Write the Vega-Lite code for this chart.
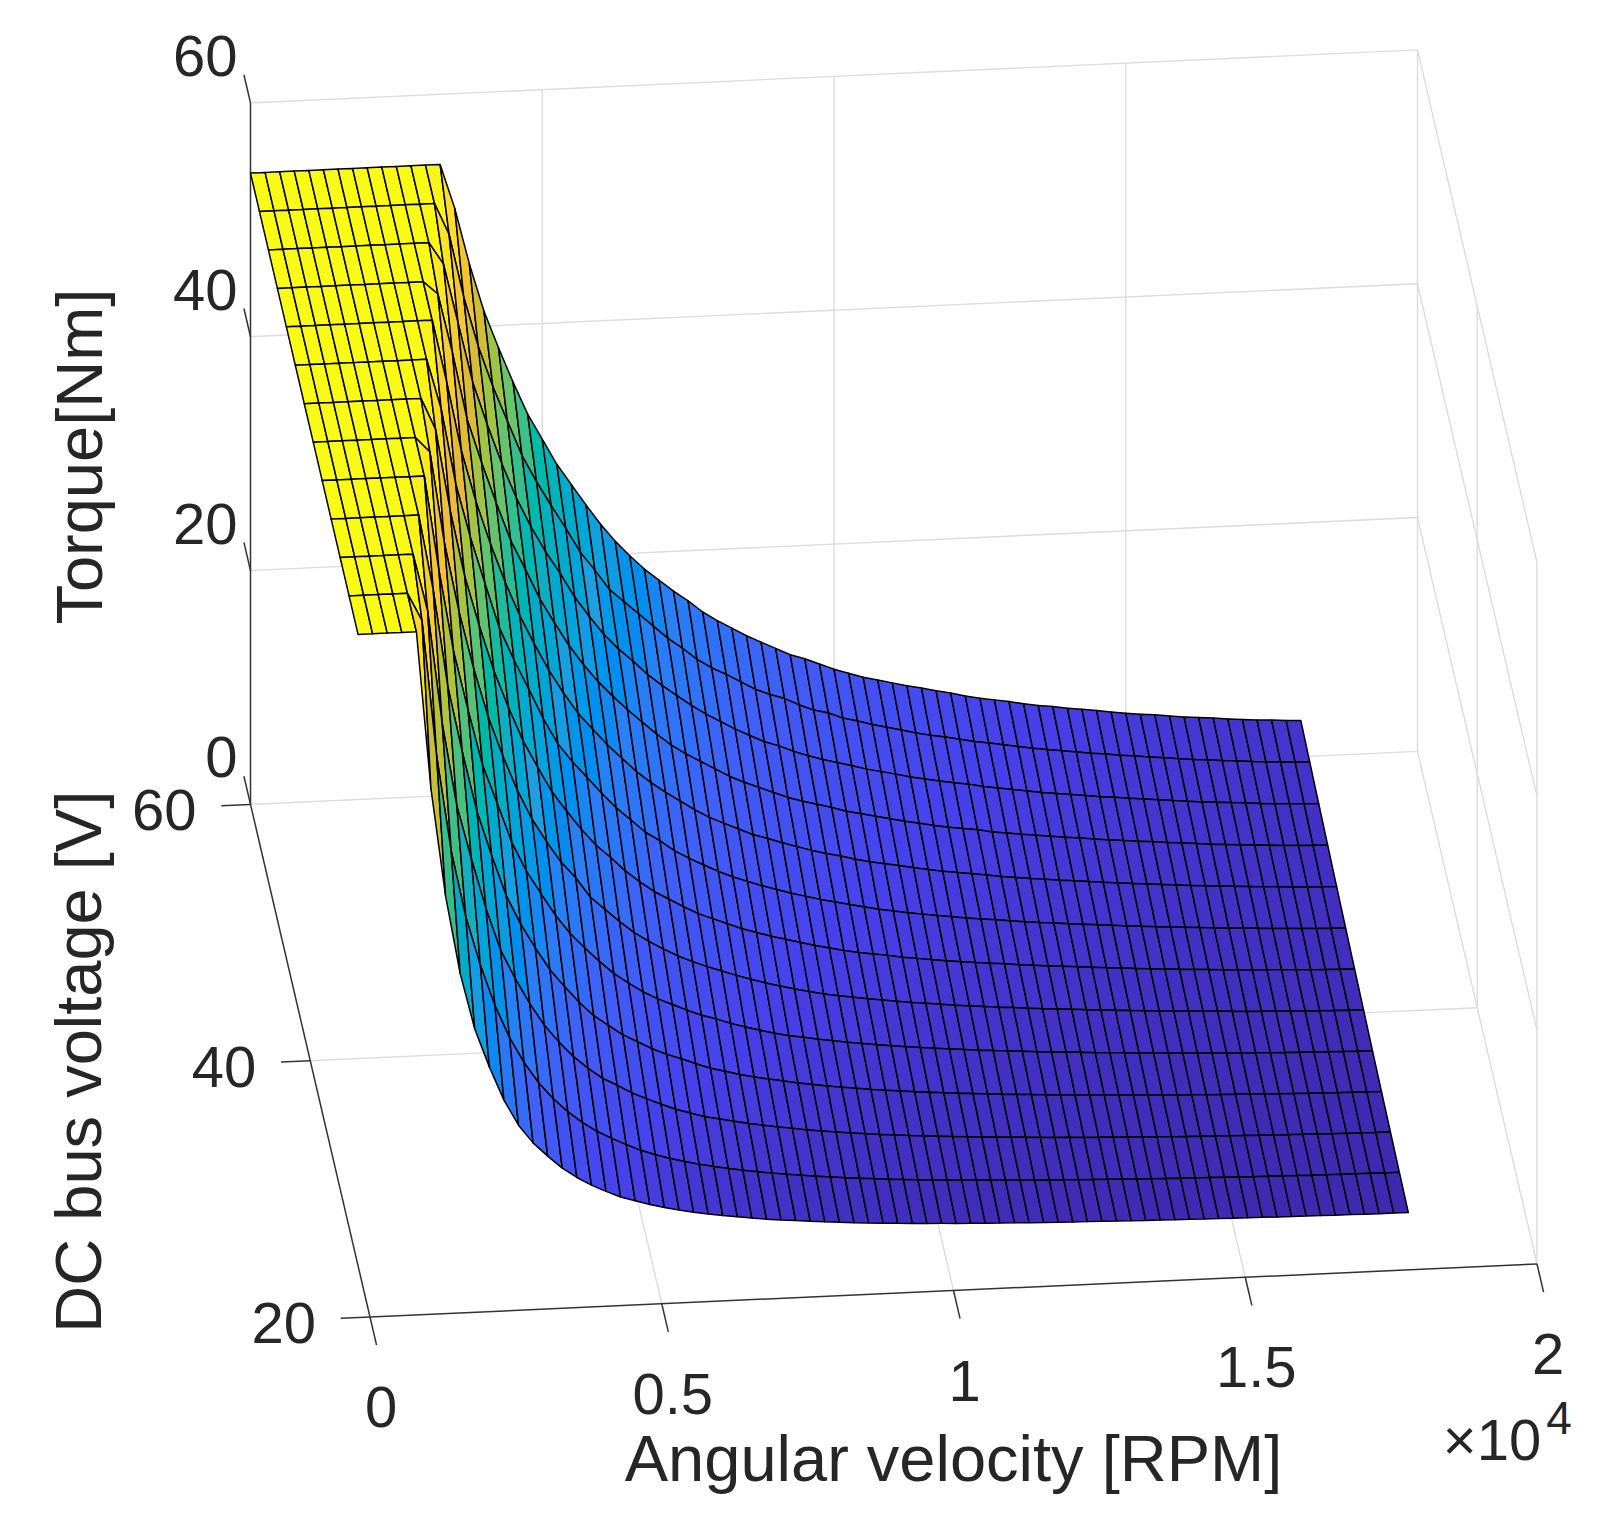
{"$schema":"https://vega.github.io/schema/vega-lite/v6.json","width":1601,"height":1529,"padding":0,"autosize":{"type":"fit","contains":"padding"},"background":"white","config":{"view":{"stroke":null}},
"datasets":{
"surface":[
{"r":0,"v":60,"t":54},{"r":250,"v":60,"t":54},{"r":500,"v":60,"t":54},{"r":750,"v":60,"t":54},{"r":1000,"v":60,"t":54},{"r":1250,"v":60,"t":54},{"r":1500,"v":60,"t":54},{"r":1750,"v":60,"t":54},{"r":2000,"v":60,"t":54},{"r":2250,"v":60,"t":54},{"r":2500,"v":60,"t":54},{"r":2750,"v":60,"t":54},{"r":3000,"v":60,"t":54},{"r":3250,"v":60,"t":54},{"r":3500,"v":60,"t":50.2},{"r":3750,"v":60,"t":45.4},{"r":4000,"v":60,"t":41.3},{"r":4250,"v":60,"t":38.1},{"r":4500,"v":60,"t":35.1},{"r":4750,"v":60,"t":32.3},{"r":5000,"v":60,"t":30.1},{"r":5250,"v":60,"t":27.9},{"r":5500,"v":60,"t":26.1},{"r":5750,"v":60,"t":24.3},{"r":6000,"v":60,"t":22.6},{"r":6250,"v":60,"t":21.1},{"r":6500,"v":60,"t":19.8},{"r":6750,"v":60,"t":18.6},{"r":7000,"v":60,"t":17.6},{"r":7250,"v":60,"t":16.6},{"r":7500,"v":60,"t":15.7},{"r":7750,"v":60,"t":14.7},{"r":8000,"v":60,"t":13.9},{"r":8250,"v":60,"t":13.2},{"r":8500,"v":60,"t":12.5},{"r":8750,"v":60,"t":11.9},{"r":9000,"v":60,"t":11.3},{"r":9250,"v":60,"t":10.7},{"r":9500,"v":60,"t":10.3},{"r":9750,"v":60,"t":9.8},{"r":10000,"v":60,"t":9.3},{"r":10250,"v":60,"t":8.9},{"r":10500,"v":60,"t":8.5},{"r":10750,"v":60,"t":8.2},{"r":11000,"v":60,"t":7.9},{"r":11250,"v":60,"t":7.6},{"r":11500,"v":60,"t":7.35},{"r":11750,"v":60,"t":7.05},{"r":12000,"v":60,"t":6.8},{"r":12250,"v":60,"t":6.5},{"r":12500,"v":60,"t":6.25},{"r":12750,"v":60,"t":6.05},{"r":13000,"v":60,"t":5.85},{"r":13250,"v":60,"t":5.6},{"r":13500,"v":60,"t":5.4},{"r":13750,"v":60,"t":5.25},{"r":14000,"v":60,"t":5.05},{"r":14250,"v":60,"t":4.9},{"r":14500,"v":60,"t":4.75},{"r":14750,"v":60,"t":4.55},{"r":15000,"v":60,"t":4.4},{"r":15250,"v":60,"t":4.25},{"r":15500,"v":60,"t":4.15},{"r":15750,"v":60,"t":4},{"r":16000,"v":60,"t":3.85},{"r":16250,"v":60,"t":3.75},{"r":16500,"v":60,"t":3.65},{"r":16750,"v":60,"t":3.5},{"r":17000,"v":60,"t":3.4},{"r":17250,"v":60,"t":3.3},{"r":17500,"v":60,"t":3.25},{"r":17750,"v":60,"t":3.15},{"r":18000,"v":60,"t":3.1},
{"r":0,"v":57,"t":54},{"r":250,"v":57,"t":54},{"r":500,"v":57,"t":54},{"r":750,"v":57,"t":54},{"r":1000,"v":57,"t":54},{"r":1250,"v":57,"t":54},{"r":1500,"v":57,"t":54},{"r":1750,"v":57,"t":54},{"r":2000,"v":57,"t":54},{"r":2250,"v":57,"t":54},{"r":2500,"v":57,"t":54},{"r":2750,"v":57,"t":54},{"r":3000,"v":57,"t":54},{"r":3250,"v":57,"t":51.3},{"r":3500,"v":57,"t":45.9},{"r":3750,"v":57,"t":41.6},{"r":4000,"v":57,"t":38.1},{"r":4250,"v":57,"t":35.1},{"r":4500,"v":57,"t":32.1},{"r":4750,"v":57,"t":29.8},{"r":5000,"v":57,"t":27.7},{"r":5250,"v":57,"t":25.7},{"r":5500,"v":57,"t":23.6},{"r":5750,"v":57,"t":22},{"r":6000,"v":57,"t":20.3},{"r":6250,"v":57,"t":19.2},{"r":6500,"v":57,"t":18.1},{"r":6750,"v":57,"t":17},{"r":7000,"v":57,"t":15.9},{"r":7250,"v":57,"t":15},{"r":7500,"v":57,"t":14},{"r":7750,"v":57,"t":13.2},{"r":8000,"v":57,"t":12.6},{"r":8250,"v":57,"t":11.9},{"r":8500,"v":57,"t":11.2},{"r":8750,"v":57,"t":10.7},{"r":9000,"v":57,"t":10.3},{"r":9250,"v":57,"t":9.7},{"r":9500,"v":57,"t":9.2},{"r":9750,"v":57,"t":8.9},{"r":10000,"v":57,"t":8.4},{"r":10250,"v":57,"t":8.1},{"r":10500,"v":57,"t":7.75},{"r":10750,"v":57,"t":7.45},{"r":11000,"v":57,"t":7.15},{"r":11250,"v":57,"t":6.85},{"r":11500,"v":57,"t":6.6},{"r":11750,"v":57,"t":6.38},{"r":12000,"v":57,"t":6.15},{"r":12250,"v":57,"t":5.9},{"r":12500,"v":57,"t":5.7},{"r":12750,"v":57,"t":5.5},{"r":13000,"v":57,"t":5.3},{"r":13250,"v":57,"t":5.09},{"r":13500,"v":57,"t":4.92},{"r":13750,"v":57,"t":4.76},{"r":14000,"v":57,"t":4.6},{"r":14250,"v":57,"t":4.44},{"r":14500,"v":57,"t":4.31},{"r":14750,"v":57,"t":4.15},{"r":15000,"v":57,"t":4.02},{"r":15250,"v":57,"t":3.89},{"r":15500,"v":57,"t":3.76},{"r":15750,"v":57,"t":3.63},{"r":16000,"v":57,"t":3.5},{"r":16250,"v":57,"t":3.4},{"r":16500,"v":57,"t":3.3},{"r":16750,"v":57,"t":3.21},{"r":17000,"v":57,"t":3.11},{"r":17250,"v":57,"t":3.01},{"r":17500,"v":57,"t":2.95},{"r":17750,"v":57,"t":2.88},{"r":18000,"v":57,"t":2.82},
{"r":0,"v":54,"t":54},{"r":250,"v":54,"t":54},{"r":500,"v":54,"t":54},{"r":750,"v":54,"t":54},{"r":1000,"v":54,"t":54},{"r":1250,"v":54,"t":54},{"r":1500,"v":54,"t":54},{"r":1750,"v":54,"t":54},{"r":2000,"v":54,"t":54},{"r":2250,"v":54,"t":54},{"r":2500,"v":54,"t":54},{"r":2750,"v":54,"t":54},{"r":3000,"v":54,"t":52.1},{"r":3250,"v":54,"t":47},{"r":3500,"v":54,"t":41.9},{"r":3750,"v":54,"t":38.2},{"r":4000,"v":54,"t":34.8},{"r":4250,"v":54,"t":31.8},{"r":4500,"v":54,"t":29.3},{"r":4750,"v":54,"t":27.1},{"r":5000,"v":54,"t":25.2},{"r":5250,"v":54,"t":23.1},{"r":5500,"v":54,"t":21.4},{"r":5750,"v":54,"t":19.8},{"r":6000,"v":54,"t":18.5},{"r":6250,"v":54,"t":17.4},{"r":6500,"v":54,"t":16.2},{"r":6750,"v":54,"t":15.2},{"r":7000,"v":54,"t":14.3},{"r":7250,"v":54,"t":13.4},{"r":7500,"v":54,"t":12.6},{"r":7750,"v":54,"t":11.9},{"r":8000,"v":54,"t":11.2},{"r":8250,"v":54,"t":10.6},{"r":8500,"v":54,"t":10},{"r":8750,"v":54,"t":9.6},{"r":9000,"v":54,"t":9.07},{"r":9250,"v":54,"t":8.64},{"r":9500,"v":54,"t":8.26},{"r":9750,"v":54,"t":7.94},{"r":10000,"v":54,"t":7.61},{"r":10250,"v":54,"t":7.27},{"r":10500,"v":54,"t":7},{"r":10750,"v":54,"t":6.73},{"r":11000,"v":54,"t":6.43},{"r":11250,"v":54,"t":6.19},{"r":11500,"v":54,"t":5.98},{"r":11750,"v":54,"t":5.76},{"r":12000,"v":54,"t":5.59},{"r":12250,"v":54,"t":5.33},{"r":12500,"v":54,"t":5.15},{"r":12750,"v":54,"t":4.97},{"r":13000,"v":54,"t":4.78},{"r":13250,"v":54,"t":4.6},{"r":13500,"v":54,"t":4.45},{"r":13750,"v":54,"t":4.31},{"r":14000,"v":54,"t":4.16},{"r":14250,"v":54,"t":4.01},{"r":14500,"v":54,"t":3.9},{"r":14750,"v":54,"t":3.75},{"r":15000,"v":54,"t":3.63},{"r":15250,"v":54,"t":3.52},{"r":15500,"v":54,"t":3.4},{"r":15750,"v":54,"t":3.28},{"r":16000,"v":54,"t":3.16},{"r":16250,"v":54,"t":3.08},{"r":16500,"v":54,"t":2.99},{"r":16750,"v":54,"t":2.9},{"r":17000,"v":54,"t":2.81},{"r":17250,"v":54,"t":2.72},{"r":17500,"v":54,"t":2.67},{"r":17750,"v":54,"t":2.61},{"r":18000,"v":54,"t":2.55},
{"r":0,"v":51,"t":54},{"r":250,"v":51,"t":54},{"r":500,"v":51,"t":54},{"r":750,"v":51,"t":54},{"r":1000,"v":51,"t":54},{"r":1250,"v":51,"t":54},{"r":1500,"v":51,"t":54},{"r":1750,"v":51,"t":54},{"r":2000,"v":51,"t":54},{"r":2250,"v":51,"t":54},{"r":2500,"v":51,"t":54},{"r":2750,"v":51,"t":52.9},{"r":3000,"v":51,"t":47.8},{"r":3250,"v":51,"t":42.1},{"r":3500,"v":51,"t":38.3},{"r":3750,"v":51,"t":34.8},{"r":4000,"v":51,"t":31.5},{"r":4250,"v":51,"t":29},{"r":4500,"v":51,"t":26.4},{"r":4750,"v":51,"t":24.3},{"r":5000,"v":51,"t":22.3},{"r":5250,"v":51,"t":20.6},{"r":5500,"v":51,"t":19.1},{"r":5750,"v":51,"t":17.8},{"r":6000,"v":51,"t":16.6},{"r":6250,"v":51,"t":15.5},{"r":6500,"v":51,"t":14.4},{"r":6750,"v":51,"t":13.4},{"r":7000,"v":51,"t":12.6},{"r":7250,"v":51,"t":11.9},{"r":7500,"v":51,"t":11.2},{"r":7750,"v":51,"t":10.5},{"r":8000,"v":51,"t":9.94},{"r":8250,"v":51,"t":9.45},{"r":8500,"v":51,"t":8.96},{"r":8750,"v":51,"t":8.48},{"r":9000,"v":51,"t":8.1},{"r":9250,"v":51,"t":7.78},{"r":9500,"v":51,"t":7.45},{"r":9750,"v":51,"t":7.07},{"r":10000,"v":51,"t":6.8},{"r":10250,"v":51,"t":6.53},{"r":10500,"v":51,"t":6.25},{"r":10750,"v":51,"t":5.98},{"r":11000,"v":51,"t":5.76},{"r":11250,"v":51,"t":5.52},{"r":11500,"v":51,"t":5.31},{"r":11750,"v":51,"t":5.13},{"r":12000,"v":51,"t":4.97},{"r":12250,"v":51,"t":4.73},{"r":12500,"v":51,"t":4.58},{"r":12750,"v":51,"t":4.42},{"r":13000,"v":51,"t":4.29},{"r":13250,"v":51,"t":4.13},{"r":13500,"v":51,"t":4},{"r":13750,"v":51,"t":3.87},{"r":14000,"v":51,"t":3.73},{"r":14250,"v":51,"t":3.6},{"r":14500,"v":51,"t":3.5},{"r":14750,"v":51,"t":3.37},{"r":15000,"v":51,"t":3.26},{"r":15250,"v":51,"t":3.16},{"r":15500,"v":51,"t":3.05},{"r":15750,"v":51,"t":2.95},{"r":16000,"v":51,"t":2.84},{"r":16250,"v":51,"t":2.76},{"r":16500,"v":51,"t":2.68},{"r":16750,"v":51,"t":2.6},{"r":17000,"v":51,"t":2.52},{"r":17250,"v":51,"t":2.45},{"r":17500,"v":51,"t":2.39},{"r":17750,"v":51,"t":2.34},{"r":18000,"v":51,"t":2.29},
{"r":0,"v":48,"t":54},{"r":250,"v":48,"t":54},{"r":500,"v":48,"t":54},{"r":750,"v":48,"t":54},{"r":1000,"v":48,"t":54},{"r":1250,"v":48,"t":54},{"r":1500,"v":48,"t":54},{"r":1750,"v":48,"t":54},{"r":2000,"v":48,"t":54},{"r":2250,"v":48,"t":54},{"r":2500,"v":48,"t":54},{"r":2750,"v":48,"t":48.6},{"r":3000,"v":48,"t":42.7},{"r":3250,"v":48,"t":38.3},{"r":3500,"v":48,"t":34.6},{"r":3750,"v":48,"t":31.3},{"r":4000,"v":48,"t":28.4},{"r":4250,"v":48,"t":25.9},{"r":4500,"v":48,"t":23.6},{"r":4750,"v":48,"t":21.6},{"r":5000,"v":48,"t":19.8},{"r":5250,"v":48,"t":18.4},{"r":5500,"v":48,"t":17},{"r":5750,"v":48,"t":15.8},{"r":6000,"v":48,"t":14.6},{"r":6250,"v":48,"t":13.6},{"r":6500,"v":48,"t":12.7},{"r":6750,"v":48,"t":11.9},{"r":7000,"v":48,"t":11.1},{"r":7250,"v":48,"t":10.4},{"r":7500,"v":48,"t":9.83},{"r":7750,"v":48,"t":9.29},{"r":8000,"v":48,"t":8.75},{"r":8250,"v":48,"t":8.37},{"r":8500,"v":48,"t":7.94},{"r":8750,"v":48,"t":7.56},{"r":9000,"v":48,"t":7.18},{"r":9250,"v":48,"t":6.86},{"r":9500,"v":48,"t":6.59},{"r":9750,"v":48,"t":6.26},{"r":10000,"v":48,"t":5.99},{"r":10250,"v":48,"t":5.75},{"r":10500,"v":48,"t":5.54},{"r":10750,"v":48,"t":5.3},{"r":11000,"v":48,"t":5.1},{"r":11250,"v":48,"t":4.89},{"r":11500,"v":48,"t":4.73},{"r":11750,"v":48,"t":4.55},{"r":12000,"v":48,"t":4.4},{"r":12250,"v":48,"t":4.21},{"r":12500,"v":48,"t":4.07},{"r":12750,"v":48,"t":3.93},{"r":13000,"v":48,"t":3.81},{"r":13250,"v":48,"t":3.67},{"r":13500,"v":48,"t":3.56},{"r":13750,"v":48,"t":3.44},{"r":14000,"v":48,"t":3.32},{"r":14250,"v":48,"t":3.21},{"r":14500,"v":48,"t":3.11},{"r":14750,"v":48,"t":3},{"r":15000,"v":48,"t":2.9},{"r":15250,"v":48,"t":2.81},{"r":15500,"v":48,"t":2.71},{"r":15750,"v":48,"t":2.62},{"r":16000,"v":48,"t":2.53},{"r":16250,"v":48,"t":2.46},{"r":16500,"v":48,"t":2.39},{"r":16750,"v":48,"t":2.32},{"r":17000,"v":48,"t":2.25},{"r":17250,"v":48,"t":2.18},{"r":17500,"v":48,"t":2.13},{"r":17750,"v":48,"t":2.08},{"r":18000,"v":48,"t":2.04},
{"r":0,"v":45,"t":54},{"r":250,"v":45,"t":54},{"r":500,"v":45,"t":54},{"r":750,"v":45,"t":54},{"r":1000,"v":45,"t":54},{"r":1250,"v":45,"t":54},{"r":1500,"v":45,"t":54},{"r":1750,"v":45,"t":54},{"r":2000,"v":45,"t":54},{"r":2250,"v":45,"t":54},{"r":2500,"v":45,"t":49.7},{"r":2750,"v":45,"t":43.2},{"r":3000,"v":45,"t":38.6},{"r":3250,"v":45,"t":34.6},{"r":3500,"v":45,"t":30.7},{"r":3750,"v":45,"t":27.9},{"r":4000,"v":45,"t":25.4},{"r":4250,"v":45,"t":22.8},{"r":4500,"v":45,"t":20.6},{"r":4750,"v":45,"t":19},{"r":5000,"v":45,"t":17.6},{"r":5250,"v":45,"t":16.2},{"r":5500,"v":45,"t":14.9},{"r":5750,"v":45,"t":13.8},{"r":6000,"v":45,"t":12.7},{"r":6250,"v":45,"t":11.9},{"r":6500,"v":45,"t":11},{"r":6750,"v":45,"t":10.3},{"r":7000,"v":45,"t":9.67},{"r":7250,"v":45,"t":9.07},{"r":7500,"v":45,"t":8.53},{"r":7750,"v":45,"t":8.1},{"r":8000,"v":45,"t":7.67},{"r":8250,"v":45,"t":7.29},{"r":8500,"v":45,"t":6.91},{"r":8750,"v":45,"t":6.59},{"r":9000,"v":45,"t":6.26},{"r":9250,"v":45,"t":5.99},{"r":9500,"v":45,"t":5.72},{"r":9750,"v":45,"t":5.45},{"r":10000,"v":45,"t":5.2},{"r":10250,"v":45,"t":5},{"r":10500,"v":45,"t":4.8},{"r":10750,"v":45,"t":4.62},{"r":11000,"v":45,"t":4.45},{"r":11250,"v":45,"t":4.28},{"r":11500,"v":45,"t":4.12},{"r":11750,"v":45,"t":3.98},{"r":12000,"v":45,"t":3.85},{"r":12250,"v":45,"t":3.71},{"r":12500,"v":45,"t":3.58},{"r":12750,"v":45,"t":3.46},{"r":13000,"v":45,"t":3.36},{"r":13250,"v":45,"t":3.23},{"r":13500,"v":45,"t":3.13},{"r":13750,"v":45,"t":3.03},{"r":14000,"v":45,"t":2.93},{"r":14250,"v":45,"t":2.82},{"r":14500,"v":45,"t":2.74},{"r":14750,"v":45,"t":2.64},{"r":15000,"v":45,"t":2.55},{"r":15250,"v":45,"t":2.47},{"r":15500,"v":45,"t":2.39},{"r":15750,"v":45,"t":2.31},{"r":16000,"v":45,"t":2.22},{"r":16250,"v":45,"t":2.16},{"r":16500,"v":45,"t":2.1},{"r":16750,"v":45,"t":2.04},{"r":17000,"v":45,"t":1.98},{"r":17250,"v":45,"t":1.92},{"r":17500,"v":45,"t":1.87},{"r":17750,"v":45,"t":1.83},{"r":18000,"v":45,"t":1.79},
{"r":0,"v":42,"t":54},{"r":250,"v":42,"t":54},{"r":500,"v":42,"t":54},{"r":750,"v":42,"t":54},{"r":1000,"v":42,"t":54},{"r":1250,"v":42,"t":54},{"r":1500,"v":42,"t":54},{"r":1750,"v":42,"t":54},{"r":2000,"v":42,"t":54},{"r":2250,"v":42,"t":51.3},{"r":2500,"v":42,"t":44.3},{"r":2750,"v":42,"t":38.6},{"r":3000,"v":42,"t":34.3},{"r":3250,"v":42,"t":30.4},{"r":3500,"v":42,"t":27.2},{"r":3750,"v":42,"t":24.3},{"r":4000,"v":42,"t":22},{"r":4250,"v":42,"t":19.8},{"r":4500,"v":42,"t":18.1},{"r":4750,"v":42,"t":16.5},{"r":5000,"v":42,"t":15.1},{"r":5250,"v":42,"t":14},{"r":5500,"v":42,"t":12.8},{"r":5750,"v":42,"t":11.8},{"r":6000,"v":42,"t":10.9},{"r":6250,"v":42,"t":10.2},{"r":6500,"v":42,"t":9.5},{"r":6750,"v":42,"t":8.86},{"r":7000,"v":42,"t":8.37},{"r":7250,"v":42,"t":7.88},{"r":7500,"v":42,"t":7.4},{"r":7750,"v":42,"t":7.02},{"r":8000,"v":42,"t":6.64},{"r":8250,"v":42,"t":6.32},{"r":8500,"v":42,"t":5.99},{"r":8750,"v":42,"t":5.67},{"r":9000,"v":42,"t":5.4},{"r":9250,"v":42,"t":5.13},{"r":9500,"v":42,"t":4.91},{"r":9750,"v":42,"t":4.72},{"r":10000,"v":42,"t":4.55},{"r":10250,"v":42,"t":4.34},{"r":10500,"v":42,"t":4.18},{"r":10750,"v":42,"t":4.01},{"r":11000,"v":42,"t":3.87},{"r":11250,"v":42,"t":3.73},{"r":11500,"v":42,"t":3.6},{"r":11750,"v":42,"t":3.47},{"r":12000,"v":42,"t":3.37},{"r":12250,"v":42,"t":3.24},{"r":12500,"v":42,"t":3.13},{"r":12750,"v":42,"t":3.02},{"r":13000,"v":42,"t":2.93},{"r":13250,"v":42,"t":2.83},{"r":13500,"v":42,"t":2.74},{"r":13750,"v":42,"t":2.65},{"r":14000,"v":42,"t":2.56},{"r":14250,"v":42,"t":2.47},{"r":14500,"v":42,"t":2.39},{"r":14750,"v":42,"t":2.3},{"r":15000,"v":42,"t":2.23},{"r":15250,"v":42,"t":2.16},{"r":15500,"v":42,"t":2.09},{"r":15750,"v":42,"t":2.02},{"r":16000,"v":42,"t":1.94},{"r":16250,"v":42,"t":1.89},{"r":16500,"v":42,"t":1.84},{"r":16750,"v":42,"t":1.78},{"r":17000,"v":42,"t":1.73},{"r":17250,"v":42,"t":1.67},{"r":17500,"v":42,"t":1.64},{"r":17750,"v":42,"t":1.6},{"r":18000,"v":42,"t":1.57},
{"r":0,"v":39,"t":54},{"r":250,"v":39,"t":54},{"r":500,"v":39,"t":54},{"r":750,"v":39,"t":54},{"r":1000,"v":39,"t":54},{"r":1250,"v":39,"t":54},{"r":1500,"v":39,"t":54},{"r":1750,"v":39,"t":54},{"r":2000,"v":39,"t":52.7},{"r":2250,"v":39,"t":44.8},{"r":2500,"v":39,"t":38.9},{"r":2750,"v":39,"t":34},{"r":3000,"v":39,"t":29.8},{"r":3250,"v":39,"t":26.4},{"r":3500,"v":39,"t":23.4},{"r":3750,"v":39,"t":20.9},{"r":4000,"v":39,"t":18.9},{"r":4250,"v":39,"t":17.1},{"r":4500,"v":39,"t":15.7},{"r":4750,"v":39,"t":14},{"r":5000,"v":39,"t":12.9},{"r":5250,"v":39,"t":11.8},{"r":5500,"v":39,"t":10.8},{"r":5750,"v":39,"t":10},{"r":6000,"v":39,"t":9.29},{"r":6250,"v":39,"t":8.64},{"r":6500,"v":39,"t":8.1},{"r":6750,"v":39,"t":7.61},{"r":7000,"v":39,"t":7.18},{"r":7250,"v":39,"t":6.75},{"r":7500,"v":39,"t":6.37},{"r":7750,"v":39,"t":5.99},{"r":8000,"v":39,"t":5.67},{"r":8250,"v":39,"t":5.35},{"r":8500,"v":39,"t":5.08},{"r":8750,"v":39,"t":4.81},{"r":9000,"v":39,"t":4.62},{"r":9250,"v":39,"t":4.43},{"r":9500,"v":39,"t":4.24},{"r":9750,"v":39,"t":4.07},{"r":10000,"v":39,"t":3.92},{"r":10250,"v":39,"t":3.76},{"r":10500,"v":39,"t":3.62},{"r":10750,"v":39,"t":3.48},{"r":11000,"v":39,"t":3.35},{"r":11250,"v":39,"t":3.23},{"r":11500,"v":39,"t":3.12},{"r":11750,"v":39,"t":3.01},{"r":12000,"v":39,"t":2.92},{"r":12250,"v":39,"t":2.81},{"r":12500,"v":39,"t":2.71},{"r":12750,"v":39,"t":2.62},{"r":13000,"v":39,"t":2.54},{"r":13250,"v":39,"t":2.45},{"r":13500,"v":39,"t":2.37},{"r":13750,"v":39,"t":2.29},{"r":14000,"v":39,"t":2.22},{"r":14250,"v":39,"t":2.14},{"r":14500,"v":39,"t":2.07},{"r":14750,"v":39,"t":2},{"r":15000,"v":39,"t":1.93},{"r":15250,"v":39,"t":1.87},{"r":15500,"v":39,"t":1.81},{"r":15750,"v":39,"t":1.75},{"r":16000,"v":39,"t":1.68},{"r":16250,"v":39,"t":1.64},{"r":16500,"v":39,"t":1.59},{"r":16750,"v":39,"t":1.54},{"r":17000,"v":39,"t":1.5},{"r":17250,"v":39,"t":1.45},{"r":17500,"v":39,"t":1.42},{"r":17750,"v":39,"t":1.39},{"r":18000,"v":39,"t":1.36},
{"r":0,"v":36,"t":54},{"r":250,"v":36,"t":54},{"r":500,"v":36,"t":54},{"r":750,"v":36,"t":54},{"r":1000,"v":36,"t":54},{"r":1250,"v":36,"t":54},{"r":1500,"v":36,"t":54},{"r":1750,"v":36,"t":54},{"r":2000,"v":36,"t":45.9},{"r":2250,"v":36,"t":38.9},{"r":2500,"v":36,"t":33.8},{"r":2750,"v":36,"t":29},{"r":3000,"v":36,"t":25.7},{"r":3250,"v":36,"t":22.3},{"r":3500,"v":36,"t":19.8},{"r":3750,"v":36,"t":17.8},{"r":4000,"v":36,"t":15.9},{"r":4250,"v":36,"t":14.3},{"r":4500,"v":36,"t":13},{"r":4750,"v":36,"t":11.8},{"r":5000,"v":36,"t":10.7},{"r":5250,"v":36,"t":9.83},{"r":5500,"v":36,"t":9.02},{"r":5750,"v":36,"t":8.37},{"r":6000,"v":36,"t":7.83},{"r":6250,"v":36,"t":7.29},{"r":6500,"v":36,"t":6.8},{"r":6750,"v":36,"t":6.43},{"r":7000,"v":36,"t":5.99},{"r":7250,"v":36,"t":5.62},{"r":7500,"v":36,"t":5.29},{"r":7750,"v":36,"t":4.97},{"r":8000,"v":36,"t":4.7},{"r":8250,"v":36,"t":4.52},{"r":8500,"v":36,"t":4.3},{"r":8750,"v":36,"t":4.11},{"r":9000,"v":36,"t":3.92},{"r":9250,"v":36,"t":3.75},{"r":9500,"v":36,"t":3.59},{"r":9750,"v":36,"t":3.45},{"r":10000,"v":36,"t":3.31},{"r":10250,"v":36,"t":3.18},{"r":10500,"v":36,"t":3.06},{"r":10750,"v":36,"t":2.94},{"r":11000,"v":36,"t":2.84},{"r":11250,"v":36,"t":2.73},{"r":11500,"v":36,"t":2.64},{"r":11750,"v":36,"t":2.55},{"r":12000,"v":36,"t":2.47},{"r":12250,"v":36,"t":2.38},{"r":12500,"v":36,"t":2.3},{"r":12750,"v":36,"t":2.22},{"r":13000,"v":36,"t":2.15},{"r":13250,"v":36,"t":2.07},{"r":13500,"v":36,"t":2.01},{"r":13750,"v":36,"t":1.94},{"r":14000,"v":36,"t":1.87},{"r":14250,"v":36,"t":1.81},{"r":14500,"v":36,"t":1.76},{"r":14750,"v":36,"t":1.69},{"r":15000,"v":36,"t":1.64},{"r":15250,"v":36,"t":1.58},{"r":15500,"v":36,"t":1.53},{"r":15750,"v":36,"t":1.48},{"r":16000,"v":36,"t":1.43},{"r":16250,"v":36,"t":1.39},{"r":16500,"v":36,"t":1.35},{"r":16750,"v":36,"t":1.31},{"r":17000,"v":36,"t":1.27},{"r":17250,"v":36,"t":1.23},{"r":17500,"v":36,"t":1.2},{"r":17750,"v":36,"t":1.17},{"r":18000,"v":36,"t":1.15},
{"r":0,"v":33,"t":54},{"r":250,"v":33,"t":54},{"r":500,"v":33,"t":54},{"r":750,"v":33,"t":54},{"r":1000,"v":33,"t":54},{"r":1250,"v":33,"t":54},{"r":1500,"v":33,"t":54},{"r":1750,"v":33,"t":47.5},{"r":2000,"v":33,"t":39.2},{"r":2250,"v":33,"t":33.5},{"r":2500,"v":33,"t":28.4},{"r":2750,"v":33,"t":24.6},{"r":3000,"v":33,"t":21.1},{"r":3250,"v":33,"t":18.6},{"r":3500,"v":33,"t":16.5},{"r":3750,"v":33,"t":14.6},{"r":4000,"v":33,"t":13.1},{"r":4250,"v":33,"t":11.7},{"r":4500,"v":33,"t":10.5},{"r":4750,"v":33,"t":9.61},{"r":5000,"v":33,"t":8.75},{"r":5250,"v":33,"t":8.1},{"r":5500,"v":33,"t":7.45},{"r":5750,"v":33,"t":6.91},{"r":6000,"v":33,"t":6.48},{"r":6250,"v":33,"t":5.99},{"r":6500,"v":33,"t":5.56},{"r":6750,"v":33,"t":5.24},{"r":7000,"v":33,"t":4.91},{"r":7250,"v":33,"t":4.63},{"r":7500,"v":33,"t":4.4},{"r":7750,"v":33,"t":4.18},{"r":8000,"v":33,"t":3.95},{"r":8250,"v":33,"t":3.76},{"r":8500,"v":33,"t":3.59},{"r":8750,"v":33,"t":3.42},{"r":9000,"v":33,"t":3.27},{"r":9250,"v":33,"t":3.12},{"r":9500,"v":33,"t":2.99},{"r":9750,"v":33,"t":2.87},{"r":10000,"v":33,"t":2.76},{"r":10250,"v":33,"t":2.65},{"r":10500,"v":33,"t":2.55},{"r":10750,"v":33,"t":2.45},{"r":11000,"v":33,"t":2.37},{"r":11250,"v":33,"t":2.28},{"r":11500,"v":33,"t":2.2},{"r":11750,"v":33,"t":2.12},{"r":12000,"v":33,"t":2.06},{"r":12250,"v":33,"t":1.98},{"r":12500,"v":33,"t":1.91},{"r":12750,"v":33,"t":1.85},{"r":13000,"v":33,"t":1.79},{"r":13250,"v":33,"t":1.73},{"r":13500,"v":33,"t":1.67},{"r":13750,"v":33,"t":1.62},{"r":14000,"v":33,"t":1.56},{"r":14250,"v":33,"t":1.51},{"r":14500,"v":33,"t":1.46},{"r":14750,"v":33,"t":1.41},{"r":15000,"v":33,"t":1.36},{"r":15250,"v":33,"t":1.32},{"r":15500,"v":33,"t":1.28},{"r":15750,"v":33,"t":1.23},{"r":16000,"v":33,"t":1.19},{"r":16250,"v":33,"t":1.16},{"r":16500,"v":33,"t":1.12},{"r":16750,"v":33,"t":1.09},{"r":17000,"v":33,"t":1.06},{"r":17250,"v":33,"t":1.02},{"r":17500,"v":33,"t":1},{"r":17750,"v":33,"t":0.98},{"r":18000,"v":33,"t":0.96},
{"r":0,"v":30,"t":54},{"r":250,"v":30,"t":54},{"r":500,"v":30,"t":54},{"r":750,"v":30,"t":54},{"r":1000,"v":30,"t":54},{"r":1250,"v":30,"t":54},{"r":1500,"v":30,"t":49.1},{"r":1750,"v":30,"t":39.4},{"r":2000,"v":30,"t":32.3},{"r":2250,"v":30,"t":27.7},{"r":2500,"v":30,"t":23.4},{"r":2750,"v":30,"t":19.8},{"r":3000,"v":30,"t":17.3},{"r":3250,"v":30,"t":15.1},{"r":3500,"v":30,"t":13.2},{"r":3750,"v":30,"t":11.7},{"r":4000,"v":30,"t":10.4},{"r":4250,"v":30,"t":9.34},{"r":4500,"v":30,"t":8.42},{"r":4750,"v":30,"t":7.78},{"r":5000,"v":30,"t":7.07},{"r":5250,"v":30,"t":6.53},{"r":5500,"v":30,"t":5.99},{"r":5750,"v":30,"t":5.51},{"r":6000,"v":30,"t":5.13},{"r":6250,"v":30,"t":4.75},{"r":6500,"v":30,"t":4.51},{"r":6750,"v":30,"t":4.25},{"r":7000,"v":30,"t":4.01},{"r":7250,"v":30,"t":3.79},{"r":7500,"v":30,"t":3.6},{"r":7750,"v":30,"t":3.42},{"r":8000,"v":30,"t":3.23},{"r":8250,"v":30,"t":3.08},{"r":8500,"v":30,"t":2.93},{"r":8750,"v":30,"t":2.8},{"r":9000,"v":30,"t":2.67},{"r":9250,"v":30,"t":2.56},{"r":9500,"v":30,"t":2.45},{"r":9750,"v":30,"t":2.35},{"r":10000,"v":30,"t":2.26},{"r":10250,"v":30,"t":2.17},{"r":10500,"v":30,"t":2.09},{"r":10750,"v":30,"t":2.01},{"r":11000,"v":30,"t":1.94},{"r":11250,"v":30,"t":1.86},{"r":11500,"v":30,"t":1.8},{"r":11750,"v":30,"t":1.74},{"r":12000,"v":30,"t":1.68},{"r":12250,"v":30,"t":1.62},{"r":12500,"v":30,"t":1.57},{"r":12750,"v":30,"t":1.51},{"r":13000,"v":30,"t":1.47},{"r":13250,"v":30,"t":1.41},{"r":13500,"v":30,"t":1.37},{"r":13750,"v":30,"t":1.32},{"r":14000,"v":30,"t":1.28},{"r":14250,"v":30,"t":1.23},{"r":14500,"v":30,"t":1.2},{"r":14750,"v":30,"t":1.15},{"r":15000,"v":30,"t":1.12},{"r":15250,"v":30,"t":1.08},{"r":15500,"v":30,"t":1.04},{"r":15750,"v":30,"t":1.01},{"r":16000,"v":30,"t":0.97},{"r":16250,"v":30,"t":0.95},{"r":16500,"v":30,"t":0.92},{"r":16750,"v":30,"t":0.89},{"r":17000,"v":30,"t":0.86},{"r":17250,"v":30,"t":0.84},{"r":17500,"v":30,"t":0.82},{"r":17750,"v":30,"t":0.8},{"r":18000,"v":30,"t":0.78},
{"r":0,"v":27,"t":54},{"r":250,"v":27,"t":54},{"r":500,"v":27,"t":54},{"r":750,"v":27,"t":54},{"r":1000,"v":27,"t":54},{"r":1250,"v":27,"t":51.6},{"r":1500,"v":27,"t":40},{"r":1750,"v":27,"t":31.8},{"r":2000,"v":27,"t":26.1},{"r":2250,"v":27,"t":21.9},{"r":2500,"v":27,"t":18.4},{"r":2750,"v":27,"t":15.6},{"r":3000,"v":27,"t":13.4},{"r":3250,"v":27,"t":11.6},{"r":3500,"v":27,"t":10.2},{"r":3750,"v":27,"t":9.02},{"r":4000,"v":27,"t":8.05},{"r":4250,"v":27,"t":7.24},{"r":4500,"v":27,"t":6.59},{"r":4750,"v":27,"t":5.99},{"r":5000,"v":27,"t":5.45},{"r":5250,"v":27,"t":5.02},{"r":5500,"v":27,"t":4.64},{"r":5750,"v":27,"t":4.32},{"r":6000,"v":27,"t":4.04},{"r":6250,"v":27,"t":3.78},{"r":6500,"v":27,"t":3.56},{"r":6750,"v":27,"t":3.35},{"r":7000,"v":27,"t":3.16},{"r":7250,"v":27,"t":2.99},{"r":7500,"v":27,"t":2.84},{"r":7750,"v":27,"t":2.7},{"r":8000,"v":27,"t":2.55},{"r":8250,"v":27,"t":2.43},{"r":8500,"v":27,"t":2.31},{"r":8750,"v":27,"t":2.21},{"r":9000,"v":27,"t":2.11},{"r":9250,"v":27,"t":2.02},{"r":9500,"v":27,"t":1.93},{"r":9750,"v":27,"t":1.85},{"r":10000,"v":27,"t":1.78},{"r":10250,"v":27,"t":1.71},{"r":10500,"v":27,"t":1.65},{"r":10750,"v":27,"t":1.58},{"r":11000,"v":27,"t":1.53},{"r":11250,"v":27,"t":1.47},{"r":11500,"v":27,"t":1.42},{"r":11750,"v":27,"t":1.37},{"r":12000,"v":27,"t":1.33},{"r":12250,"v":27,"t":1.28},{"r":12500,"v":27,"t":1.24},{"r":12750,"v":27,"t":1.19},{"r":13000,"v":27,"t":1.16},{"r":13250,"v":27,"t":1.11},{"r":13500,"v":27,"t":1.08},{"r":13750,"v":27,"t":1.04},{"r":14000,"v":27,"t":1.01},{"r":14250,"v":27,"t":0.97},{"r":14500,"v":27,"t":0.94},{"r":14750,"v":27,"t":0.91},{"r":15000,"v":27,"t":0.88},{"r":15250,"v":27,"t":0.85},{"r":15500,"v":27,"t":0.82},{"r":15750,"v":27,"t":0.8},{"r":16000,"v":27,"t":0.77},{"r":16250,"v":27,"t":0.75},{"r":16500,"v":27,"t":0.72},{"r":16750,"v":27,"t":0.7},{"r":17000,"v":27,"t":0.68},{"r":17250,"v":27,"t":0.66},{"r":17500,"v":27,"t":0.65},{"r":17750,"v":27,"t":0.63},{"r":18000,"v":27,"t":0.62},
{"r":0,"v":24,"t":54},{"r":250,"v":24,"t":54},{"r":500,"v":24,"t":54},{"r":750,"v":24,"t":54},{"r":1000,"v":24,"t":54},{"r":1250,"v":24,"t":40.5},{"r":1500,"v":24,"t":31.3},{"r":1750,"v":24,"t":24.6},{"r":2000,"v":24,"t":19.8},{"r":2250,"v":24,"t":16.5},{"r":2500,"v":24,"t":13.6},{"r":2750,"v":24,"t":11.4},{"r":3000,"v":24,"t":9.83},{"r":3250,"v":24,"t":8.64},{"r":3500,"v":24,"t":7.56},{"r":3750,"v":24,"t":6.7},{"r":4000,"v":24,"t":5.99},{"r":4250,"v":24,"t":5.4},{"r":4500,"v":24,"t":4.86},{"r":4750,"v":24,"t":4.48},{"r":5000,"v":24,"t":4.11},{"r":5250,"v":24,"t":3.8},{"r":5500,"v":24,"t":3.53},{"r":5750,"v":24,"t":3.28},{"r":6000,"v":24,"t":3.07},{"r":6250,"v":24,"t":2.88},{"r":6500,"v":24,"t":2.71},{"r":6750,"v":24,"t":2.55},{"r":7000,"v":24,"t":2.4},{"r":7250,"v":24,"t":2.27},{"r":7500,"v":24,"t":2.16},{"r":7750,"v":24,"t":2.05},{"r":8000,"v":24,"t":1.94},{"r":8250,"v":24,"t":1.85},{"r":8500,"v":24,"t":1.76},{"r":8750,"v":24,"t":1.68},{"r":9000,"v":24,"t":1.6},{"r":9250,"v":24,"t":1.53},{"r":9500,"v":24,"t":1.47},{"r":9750,"v":24,"t":1.41},{"r":10000,"v":24,"t":1.36},{"r":10250,"v":24,"t":1.3},{"r":10500,"v":24,"t":1.25},{"r":10750,"v":24,"t":1.2},{"r":11000,"v":24,"t":1.16},{"r":11250,"v":24,"t":1.12},{"r":11500,"v":24,"t":1.08},{"r":11750,"v":24,"t":1.04},{"r":12000,"v":24,"t":1.01},{"r":12250,"v":24,"t":0.97},{"r":12500,"v":24,"t":0.94},{"r":12750,"v":24,"t":0.91},{"r":13000,"v":24,"t":0.88},{"r":13250,"v":24,"t":0.85},{"r":13500,"v":24,"t":0.82},{"r":13750,"v":24,"t":0.79},{"r":14000,"v":24,"t":0.77},{"r":14250,"v":24,"t":0.74},{"r":14500,"v":24,"t":0.72},{"r":14750,"v":24,"t":0.69},{"r":15000,"v":24,"t":0.67},{"r":15250,"v":24,"t":0.65},{"r":15500,"v":24,"t":0.63},{"r":15750,"v":24,"t":0.6},{"r":16000,"v":24,"t":0.58},{"r":16250,"v":24,"t":0.57},{"r":16500,"v":24,"t":0.55},{"r":16750,"v":24,"t":0.53},{"r":17000,"v":24,"t":0.52},{"r":17250,"v":24,"t":0.5},{"r":17500,"v":24,"t":0.49},{"r":17750,"v":24,"t":0.48},{"r":18000,"v":24,"t":0.47}
],
"grid":[
{"id":"b0","r":0,"v":60,"t":0},{"id":"b0","r":20000,"v":60,"t":0},{"id":"b20","r":0,"v":60,"t":20},{"id":"b20","r":20000,"v":60,"t":20},{"id":"b40","r":0,"v":60,"t":40},{"id":"b40","r":20000,"v":60,"t":40},{"id":"b60","r":0,"v":60,"t":60},{"id":"b60","r":20000,"v":60,"t":60},
{"id":"bv5","r":5000,"v":60,"t":0},{"id":"bv5","r":5000,"v":60,"t":60},{"id":"bv10","r":10000,"v":60,"t":0},{"id":"bv10","r":10000,"v":60,"t":60},{"id":"bv15","r":15000,"v":60,"t":0},{"id":"bv15","r":15000,"v":60,"t":60},{"id":"bv20","r":20000,"v":60,"t":0},{"id":"bv20","r":20000,"v":60,"t":60},
{"id":"f5","r":5000,"v":20,"t":0},{"id":"f5","r":5000,"v":60,"t":0},{"id":"f10","r":10000,"v":20,"t":0},{"id":"f10","r":10000,"v":60,"t":0},{"id":"f15","r":15000,"v":20,"t":0},{"id":"f15","r":15000,"v":60,"t":0},{"id":"f20","r":20000,"v":20,"t":0},{"id":"f20","r":20000,"v":60,"t":0},{"id":"f40","r":0,"v":40,"t":0},{"id":"f40","r":20000,"v":40,"t":0},
{"id":"s20","r":20000,"v":20,"t":20},{"id":"s20","r":20000,"v":60,"t":20},{"id":"s40","r":20000,"v":20,"t":40},{"id":"s40","r":20000,"v":60,"t":40},{"id":"s60","r":20000,"v":20,"t":60},{"id":"s60","r":20000,"v":60,"t":60},{"id":"sv20","r":20000,"v":20,"t":0},{"id":"sv20","r":20000,"v":20,"t":60},{"id":"sv40","r":20000,"v":40,"t":0},{"id":"sv40","r":20000,"v":40,"t":60}
],
"axes":[
{"id":"az","r":0,"v":60,"t":0},{"id":"az","r":0,"v":60,"t":60},{"id":"av","r":0,"v":20,"t":0},{"id":"av","r":0,"v":60,"t":0},{"id":"ax","r":0,"v":20,"t":0},{"id":"ax","r":20000,"v":20,"t":0},
{"id":"z0","r":0,"v":60,"t":0},{"id":"z0","r":0,"v":62.2,"t":0},{"id":"z20","r":0,"v":60,"t":20},{"id":"z20","r":0,"v":62.2,"t":20},{"id":"z40","r":0,"v":60,"t":40},{"id":"z40","r":0,"v":62.2,"t":40},{"id":"z60","r":0,"v":60,"t":60},{"id":"z60","r":0,"v":62.2,"t":60},
{"id":"v20","r":0,"v":20,"t":0},{"id":"v20","r":-500,"v":20,"t":0},{"id":"v40","r":0,"v":40,"t":0},{"id":"v40","r":-500,"v":40,"t":0},{"id":"v60","r":0,"v":60,"t":0},{"id":"v60","r":-500,"v":60,"t":0},
{"id":"x0","r":0,"v":20,"t":0},{"id":"x0","r":0,"v":17.8,"t":0},{"id":"x5","r":5000,"v":20,"t":0},{"id":"x5","r":5000,"v":17.8,"t":0},{"id":"x10","r":10000,"v":20,"t":0},{"id":"x10","r":10000,"v":17.8,"t":0},{"id":"x15","r":15000,"v":20,"t":0},{"id":"x15","r":15000,"v":17.8,"t":0},{"id":"x20","r":20000,"v":20,"t":0},{"id":"x20","r":20000,"v":17.8,"t":0}
]
},
"encoding":{
"x":{"field":"px","type":"quantitative","axis":null,"scale":{"domain":[0,1601],"nice":false,"zero":false}},
"y":{"field":"py","type":"quantitative","axis":null,"scale":{"domain":[1529,0],"nice":false,"zero":false}}
},
"layer":[
{"data":{"name":"grid"},"transform":[{"calculate":"370+1167*datum.r/20000-119.5*(datum.v-20)/40","as":"px"},{"calculate":"1317-53*datum.r/20000-512.6*(datum.v-20)/40-701.5*datum.t/60","as":"py"}],
"mark":{"type":"line","stroke":"#dcdcdc","strokeWidth":1.4},"encoding":{"detail":{"field":"id"}}},
{"data":{"name":"axes"},"transform":[{"calculate":"370+1167*datum.r/20000-119.5*(datum.v-20)/40","as":"px"},{"calculate":"1317-53*datum.r/20000-512.6*(datum.v-20)/40-701.5*datum.t/60","as":"py"}],
"mark":{"type":"line","stroke":"#333333","strokeWidth":1.5},"encoding":{"detail":{"field":"id"}}},
{"data":{"name":"surface"},"transform":[{"calculate":"370+1167*datum.r/20000-119.5*(datum.v-20)/40","as":"px"},{"calculate":"1317-53*datum.r/20000-512.6*(datum.v-20)/40-701.5*datum.t/60","as":"py"},
{"calculate":"[0,1,2,3]","as":"k"},{"flatten":["k"]},
{"calculate":"datum.r/250-((datum.k==1||datum.k==2)?1:0)","as":"ci"},
{"calculate":"(60-datum.v)/3-((datum.k==2||datum.k==3)?1:0)","as":"cj"},
{"calculate":"datum.cj*1000+datum.ci","as":"cell"},
{"joinaggregate":[{"op":"count","as":"n"},{"op":"mean","field":"t","as":"c"}],"groupby":["cell"]},
{"filter":"datum.n==4"}],
"mark":{"type":"line","interpolate":"linear-closed","stroke":"#000000","strokeWidth":1.5,"strokeJoin":"round"},
"encoding":{"detail":{"field":"cell"},"order":{"field":"k"},
"fill":{"field":"c","type":"quantitative","legend":null,"scale":{"domain":[0,5.4,10.8,16.2,21.6,27,32.4,37.8,43.2,48.6,54],"range":["#3e26a8","#4740ea","#4060f8","#2a80f5","#1f9fe0","#14aec0","#3fbf88","#98c648","#e8b83a","#fbd030","#f9fb15"]}}}},
{"data":{"values":[{"r":0,"v":60,"t":0,"label":"0"},{"r":0,"v":60,"t":20,"label":"20"},{"r":0,"v":60,"t":40,"label":"40"},{"r":0,"v":60,"t":60,"label":"60"}]},"transform":[{"calculate":"370+1167*datum.r/20000-119.5*(datum.v-20)/40","as":"px"},{"calculate":"1317-53*datum.r/20000-512.6*(datum.v-20)/40-701.5*datum.t/60","as":"py"}],
"mark":{"type":"text","font":"Liberation Sans","fontSize":58,"fill":"#262626","align":"right","baseline":"middle","dx":-13,"dy":-44},"encoding":{"text":{"field":"label"}}},
{"data":{"values":[{"r":0,"v":20,"t":0,"label":"20"},{"r":0,"v":40,"t":0,"label":"40"},{"r":0,"v":60,"t":0,"label":"60"}]},"transform":[{"calculate":"370+1167*datum.r/20000-119.5*(datum.v-20)/40","as":"px"},{"calculate":"1317-53*datum.r/20000-512.6*(datum.v-20)/40-701.5*datum.t/60","as":"py"}],
"mark":{"type":"text","font":"Liberation Sans","fontSize":58,"fill":"#262626","align":"right","baseline":"middle","dx":-54,"dy":9},"encoding":{"text":{"field":"label"}}},
{"data":{"values":[{"r":0,"v":20,"t":0,"label":"0"},{"r":5000,"v":20,"t":0,"label":"0.5"},{"r":10000,"v":20,"t":0,"label":"1"},{"r":15000,"v":20,"t":0,"label":"1.5"},{"r":20000,"v":20,"t":0,"label":"2"}]},"transform":[{"calculate":"370+1167*datum.r/20000-119.5*(datum.v-20)/40","as":"px"},{"calculate":"1317-53*datum.r/20000-512.6*(datum.v-20)/40-701.5*datum.t/60","as":"py"}],
"mark":{"type":"text","font":"Liberation Sans","fontSize":58,"fill":"#262626","align":"center","baseline":"middle","dx":11,"dy":93},"encoding":{"text":{"field":"label"}}},
{"data":{"values":[{"r":10000,"v":20,"t":0,"label":"Angular velocity [RPM]"}]},"transform":[{"calculate":"370+1167*datum.r/20000-119.5*(datum.v-20)/40","as":"px"},{"calculate":"1317-53*datum.r/20000-512.6*(datum.v-20)/40-701.5*datum.t/60","as":"py"}],
"mark":{"type":"text","font":"Liberation Sans","fontSize":65,"fill":"#262626","align":"center","baseline":"middle","dy":170},"encoding":{"text":{"field":"label"}}},
{"data":{"values":[{"r":0,"v":40,"t":0,"label":"DC bus voltage [V]"}]},"transform":[{"calculate":"370+1167*datum.r/20000-119.5*(datum.v-20)/40","as":"px"},{"calculate":"1317-53*datum.r/20000-512.6*(datum.v-20)/40-701.5*datum.t/60","as":"py"}],
"mark":{"type":"text","font":"Liberation Sans","fontSize":65,"fill":"#262626","align":"center","baseline":"middle","angle":270,"dx":-1,"dy":-229},"encoding":{"text":{"field":"label"}}},
{"data":{"values":[{"r":0,"v":60,"t":30,"label":"Torque[Nm]"}]},"transform":[{"calculate":"370+1167*datum.r/20000-119.5*(datum.v-20)/40","as":"px"},{"calculate":"1317-53*datum.r/20000-512.6*(datum.v-20)/40-701.5*datum.t/60","as":"py"}],
"mark":{"type":"text","font":"Liberation Sans","fontSize":65,"fill":"#262626","align":"center","baseline":"middle","angle":270,"dx":-3,"dy":-169},"encoding":{"text":{"field":"label"}}},
{"data":{"values":[{"r":20000,"v":20,"t":0,"label":"×10"}]},"transform":[{"calculate":"370+1167*datum.r/20000-119.5*(datum.v-20)/40","as":"px"},{"calculate":"1317-53*datum.r/20000-512.6*(datum.v-20)/40-701.5*datum.t/60","as":"py"}],
"mark":{"type":"text","font":"Liberation Sans","fontSize":58,"fill":"#262626","align":"center","baseline":"middle","dx":-45,"dy":179},"encoding":{"text":{"field":"label"}}},
{"data":{"values":[{"r":20000,"v":20,"t":0,"label":"4"}]},"transform":[{"calculate":"370+1167*datum.r/20000-119.5*(datum.v-20)/40","as":"px"},{"calculate":"1317-53*datum.r/20000-512.6*(datum.v-20)/40-701.5*datum.t/60","as":"py"}],
"mark":{"type":"text","font":"Liberation Sans","fontSize":46,"fill":"#262626","align":"center","baseline":"middle","dx":22,"dy":156},"encoding":{"text":{"field":"label"}}}
]}
